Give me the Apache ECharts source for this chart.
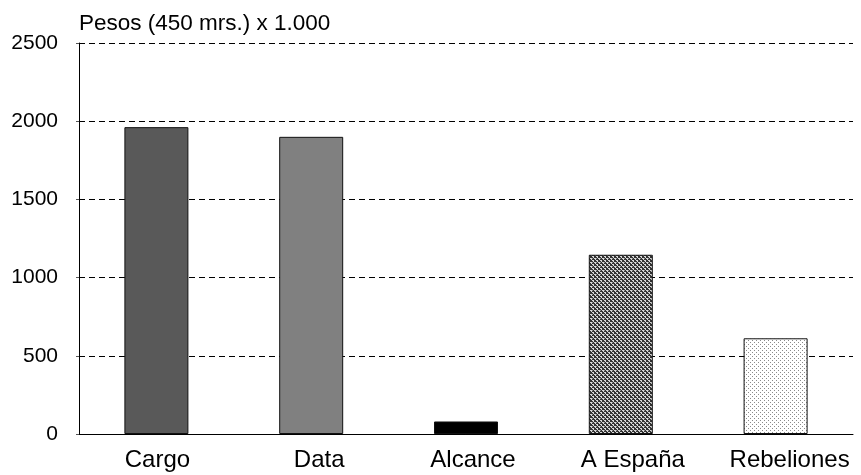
<!DOCTYPE html>
<html><head><meta charset="utf-8">
<script src="https://cdn.jsdelivr.net/npm/echarts@6/dist/echarts.min.js"></script>
<style>html,body{margin:0;padding:0;background:#fff}#c{width:861px;height:475px}</style>
</head><body><div id="c"></div>
<script>
const categories = ["Cargo", "Data", "Alcance", "A España", "Rebeliones"];
const values = [1962, 1900, 80, 1146, 612];
const yTicks = [0, 500, 1000, 1500, 2000, 2500];
const axisTitle = "Pesos (450 mrs.) x 1.000";

function makePattern(draw, w, h) {
  const c = document.createElement('canvas');
  c.width = w; c.height = h;
  const ctx = c.getContext('2d');
  draw(ctx);
  return c;
}
const hatch = makePattern(ctx => {
  ctx.fillStyle = '#333333'; ctx.fillRect(0, 0, 4, 4);
  ctx.fillStyle = '#d8d8d8';
  ctx.fillRect(0, 0, 2, 1);
  ctx.fillRect(1, 1, 1, 1);
  ctx.fillRect(2, 2, 2, 1);
  ctx.fillRect(3, 3, 1, 1);
  ctx.fillStyle = '#8a8a8a';
  ctx.fillRect(0, 2, 1, 1);
}, 4, 4);
const dots = makePattern(ctx => {
  ctx.fillStyle = '#ffffff'; ctx.fillRect(0, 0, 4, 4);
  ctx.fillStyle = '#8a8a8a';
  ctx.fillRect(0, 0, 1, 1);
  ctx.fillRect(2, 2, 1, 1);
}, 4, 4);

const fills = ['#595959', '#808080', '#000000', {image: hatch, repeat: 'repeat'}, {image: dots, repeat: 'repeat'}];
const labelShift = [2, 16, 14, 24, 28];
const FONT = 'Liberation Sans, Arial, sans-serif';

const chart = echarts.init(document.getElementById('c'), null, {renderer: 'canvas'});
chart.setOption({
  animation: false,
  backgroundColor: '#fff',
  grid: {left: 79, right: 8, top: 43, bottom: 41},
  graphic: [{type: 'text', left: 79, top: 12, style: {text: axisTitle, font: '22.5px "Liberation Sans", Arial, sans-serif', fill: '#000'}}],
  xAxis: {
    type: 'category',
    data: categories.map((c, i) => ({value: c, textStyle: {padding: [0, 0, 0, labelShift[i]]}})),
    axisLine: {lineStyle: {color: '#000', width: 1}},
    axisTick: {show: false},
    axisLabel: {color: '#000', fontSize: 24, fontFamily: FONT, margin: 14, interval: 0, hideOverlap: false}
  },
  yAxis: {
    type: 'value', min: yTicks[0], max: yTicks[yTicks.length - 1], interval: 500,
    axisLine: {show: true, lineStyle: {color: '#000', width: 1}},
    axisTick: {show: true, length: 3, lineStyle: {color: '#555'}},
    axisLabel: {color: '#000', fontSize: 21, fontFamily: FONT, margin: 21, formatter: v => String(v)},
    splitLine: {show: true, lineStyle: {color: '#000', type: [6, 4], width: 1}}
  },
  series: [{
    type: 'bar', barWidth: 64,
    data: values.map((v, i) => ({value: v, itemStyle: {color: fills[i]}})),
    itemStyle: {borderColor: '#111', borderWidth: 1}
  }]
});
</script></body></html>
